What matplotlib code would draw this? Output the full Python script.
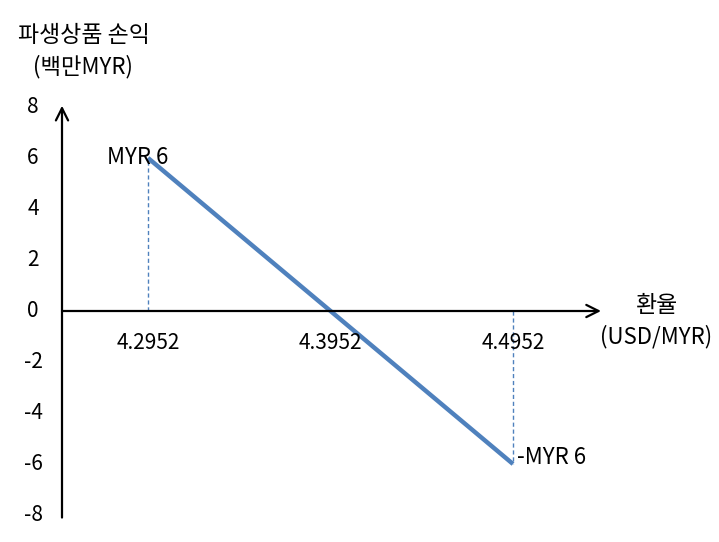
import matplotlib.pyplot as plt

plt.rcParams['font.family'] = ['Noto Sans CJK KR', 'DejaVu Sans']

# data
fx_rates = [4.2952, 4.4952]
pnl = [6, -6]
x_tick_vals = [4.2952, 4.3952, 4.4952]
x_tick_labels = ["4.2952", "4.3952", "4.4952"]
y_tick_vals = [8, 6, 4, 2, 0, -2, -4, -6, -8]
point_labels = ["MYR 6", "-MYR 6"]

blue = "#4F81BD"
fs = 15

fig = plt.figure(figsize=(7.19, 5.42), dpi=100)
ax = fig.add_axes([0, 0, 1, 1])
ax.axis("off")

# pixel-ish scale: 0.1 in x ~ 182.5 px, 1 in y ~ 25.5 px
ax.set_xlim(4.2141, 4.2141 + 719 / 1825)
ax.set_ylim(-(542 - 311) / 25.5, 311 / 25.5)

x_axis_pos = 4.2141 + 62 / 1825
x_end = 4.2141 + 601 / 1825

# axes with arrows
ax.annotate("", xy=(x_axis_pos, 8.05), xytext=(x_axis_pos, -8.1),
            arrowprops=dict(arrowstyle="->", lw=1.6, color="black",
                            mutation_scale=22, shrinkA=0, shrinkB=0))
ax.annotate("", xy=(x_end, 0), xytext=(x_axis_pos, 0),
            arrowprops=dict(arrowstyle="->", lw=1.6, color="black",
                            mutation_scale=22, shrinkA=0, shrinkB=0))

# tick labels
for v in y_tick_vals:
    ax.text(4.2141 + 33 / 1825, v, str(v), ha="center", va="center", fontsize=fs)
for v, lab in zip(x_tick_vals, x_tick_labels):
    ax.text(v, -1.25, lab, ha="center", va="center", fontsize=fs)

# dashed guides
for x, y in zip(fx_rates, pnl):
    ax.plot([x, x], [0, y], ls=(0, (3, 2)), lw=1, color=blue)

# payoff line
ax.plot(fx_rates, pnl, color=blue, lw=3.2, solid_capstyle="butt")

ax.text(fx_rates[0] + 20 / 1825, pnl[0], point_labels[0], ha="right", va="center", fontsize=16)
ax.text(fx_rates[1] + 4 / 1825, pnl[1] + 0.25, point_labels[1], ha="left", va="center", fontsize=16)

# axis titles
tfs = 16.5
ax.text(4.2141 + 84 / 1825, (311 - 35) / 25.5, "파생상품 손익", ha="center", va="center", fontsize=tfs)
ax.text(4.2141 + 83 / 1825, (311 - 67) / 25.5, "(백만MYR)", ha="center", va="center", fontsize=tfs - 0.5)
ax.text(4.2141 + 657 / 1825, (311 - 305) / 25.5, "환율", ha="center", va="center", fontsize=tfs)
ax.text(4.2141 + 656 / 1825, (311 - 337) / 25.5, "(USD/MYR)", ha="center", va="center", fontsize=tfs - 0.5)

fig.savefig("out.png", dpi=100)
